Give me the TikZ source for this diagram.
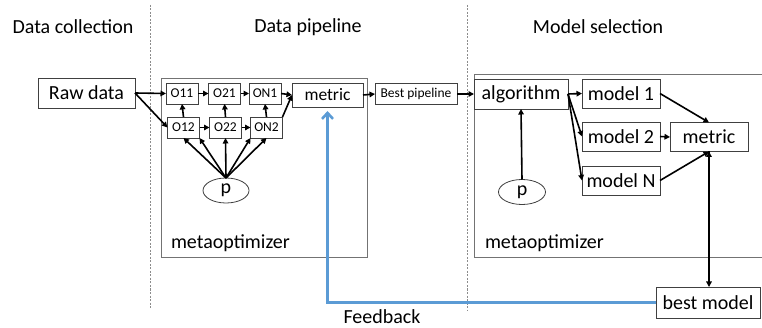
\documentclass[tikz,border=0pt]{standalone}
\usepackage{fontspec}
\setmainfont{Carlito}
\usetikzlibrary{arrows.meta, positioning, calc, shapes.geometric}
\definecolor{fbblue}{HTML}{5B9BD5}
\tikzset{
  flow/.style={
	x=1pt, y=-1pt, % one unit is one pixel of the layout
	-{Triangle[length=5.5pt,width=5.5pt]}, % small filled arrow heads
	line width=1.6pt, % thick black connectors
	every node/.style={inner sep=0pt, outer sep=0pt, align=center},
  },
  bigtext/.style={font=\fontsize{20}{24}\selectfont},
  stagebox/.style={draw=black!75, line width=0.8pt, bigtext},
  opbox/.style={stagebox, font=\fontsize{13.5}{16}\selectfont, minimum width=32pt, minimum height=21pt},
  modelbox/.style={stagebox, minimum width=78pt, minimum height=29pt},
  metabox/.style={draw=black!55, line width=0.9pt},
  pnode/.style={ellipse, draw=black!75, line width=0.8pt, minimum width=46pt, minimum height=25pt, bigtext},
  separator/.style={draw=black!45, line width=0.9pt, dash pattern=on 2pt off 1.5pt, -},
  feedback/.style={draw=fbblue, line width=2.6pt, -{Straight Barb[length=6pt,width=11pt]}, shorten >=4pt},
}
\begin{document}
\begin{tikzpicture}[flow]
	\useasboundingbox (0,0) rectangle (762,328);
	% stage titles and separators
	\node[bigtext] (tcoll) at (73,27) {Data collection};
	\node[bigtext] (tpipe) at (308,27) {Data pipeline};
	\node[bigtext] (tsel) at (598,27) {Model selection};
	\draw[separator] (150,5) -- (150,309);
	\draw[separator] (467,5) -- (467,310);

	% data pipeline
	\node[stagebox, minimum width=97pt, minimum height=30pt] (raw) at (86.5,93) {Raw data};
	\node[metabox, minimum width=206pt, minimum height=179pt] (meta1) at (264,167.5) {};
	\node[bigtext, anchor=west] (mlab1) at (171,243) {metaoptimizer};
	\node[opbox] (o11) at (182,93.5) {O11};
	\node[opbox] (o21) at (224.5,93.5) {O21};
	\node[opbox] (on1) at (265,93.5) {ON1};
	\node[opbox] (o12) at (183.5,127.5) {O12};
	\node[opbox] (o22) at (225.5,127.5) {O22};
	\node[opbox] (on2) at (266.5,127.5) {ON2};
	\node[stagebox, font=\fontsize{17.5}{20}\selectfont, minimum width=71pt, minimum height=24pt] (metric1) at (327.5,95) {metric};
	\node[pnode] (p1) at (226,190.5) {p};
	\node[stagebox, font=\fontsize{13.5}{16}\selectfont, minimum width=82pt, minimum height=21pt] (bestpipe) at (416,94) {Best pipeline};

	% model selection
	\node[metabox, minimum width=296pt, minimum height=183pt] (meta2) at (622,165.5) {};
	\node[bigtext, anchor=west] (mlab2) at (485,243) {metaoptimizer};
	\node[stagebox, minimum width=94pt, minimum height=30pt] (algo) at (521,94) {algorithm};
	\node[modelbox] (model1) at (621,93.5) {model 1};
	\node[modelbox] (model2) at (621,136.5) {model 2};
	\node[modelbox] (modelN) at (621,180.5) {model N};
	\node[modelbox] (metric2) at (709,137) {metric};
	\node[pnode, minimum width=47pt] (p2) at (522,192) {p};
	\node[stagebox, minimum width=104pt, minimum height=31pt] (bestmodel) at (708,302.5) {best model};
	\node[bigtext] (fblab) at (382,317) {Feedback};

	\draw   (raw.east) edge (o11.west)
		(raw.east) edge (o12.west)
		(o11) edge (o21)
		(o21) edge (on1)
		(on1.east) edge (metric1.west)
		(o12) edge (o22)
		(o22) edge (on2)
		(on2.north east) edge (metric1.west)
		(o12.north) edge (o11.south)
		(o22.north) edge (o21.south)
		(on2.north) edge (on1.south)
		(p1.north) edge (o12.south)
		(p1.north) edge (o12.south east)
		(p1.north) edge (o22.south)
		(p1.north) edge (on2.south west)
		(p1.north) edge (on2.south)
		(metric1.east) edge (bestpipe.west)
		(bestpipe.east) edge (algo.west)
		(algo.east) edge (model1.west)
		(algo.east) edge (model2.west)
		(algo.east) edge (modelN.west)
		(p2.north) edge (algo.south)
		(model1.east) edge (metric2.north)
		(model2.east) edge (metric2.west)
		(modelN.east) edge (metric2.south)
		(metric2.south) edge (metric2.south |- bestmodel.north)
	;
	\draw[feedback] (bestmodel.west) -| (metric1.south);
\end{tikzpicture}
\end{document}
